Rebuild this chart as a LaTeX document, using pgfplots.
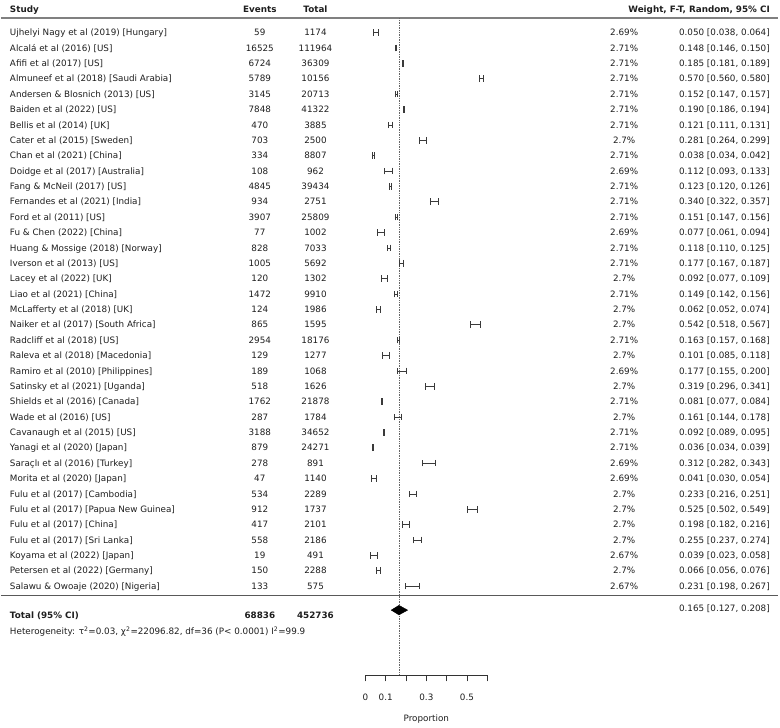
\documentclass[border=0pt]{standalone}
\usepackage{fontspec}
\setmainfont{DejaVu Sans}
\usepackage{pgfplots}
\usepackage{pgfplotstable}
\pgfplotsset{compat=1.18}

\pgfplotstableread{
idx est lo hi
0 0.050 0.038 0.064
1 0.148 0.146 0.150
2 0.185 0.181 0.189
3 0.570 0.560 0.580
4 0.152 0.147 0.157
5 0.190 0.186 0.194
6 0.121 0.111 0.131
7 0.281 0.264 0.299
8 0.038 0.034 0.042
9 0.112 0.093 0.133
10 0.123 0.120 0.126
11 0.340 0.322 0.357
12 0.151 0.147 0.156
13 0.077 0.061 0.094
14 0.118 0.110 0.125
15 0.177 0.167 0.187
16 0.092 0.077 0.109
17 0.149 0.142 0.156
18 0.062 0.052 0.074
19 0.542 0.518 0.567
20 0.163 0.157 0.168
21 0.101 0.085 0.118
22 0.177 0.155 0.200
23 0.319 0.296 0.341
24 0.081 0.077 0.084
25 0.161 0.144 0.178
26 0.092 0.089 0.095
27 0.036 0.034 0.039
28 0.312 0.282 0.343
29 0.041 0.030 0.054
30 0.233 0.216 0.251
31 0.525 0.502 0.549
32 0.198 0.182 0.216
33 0.255 0.237 0.274
34 0.039 0.023 0.058
35 0.066 0.056 0.076
36 0.231 0.198 0.267
}\forestdata

\definecolor{txt}{HTML}{1E1E1E}
\definecolor{ci}{HTML}{3A3A3A}

\tikzset{t/.style={inner sep=0pt, text=txt, yshift=-3.2pt},
         tb/.style={inner sep=0pt, text=txt, yshift=-3.2pt, font=\fontsize{8.8pt}{10pt}\selectfont\bfseries}}

\newcommand\frow[6]{%
  \node[t, anchor=base west] at (axis cs:-1.7511,-#1) {#2};
  \node[t, anchor=base] at (axis cs:-0.520,-#1) {#3};
  \node[t, anchor=base] at (axis cs:-0.246,-#1) {#4};
  \node[t, anchor=base] at (axis cs:1.274,-#1) {#5};
  \node[t, anchor=base east] at (axis cs:1.992,-#1) {#6};
}

\begin{document}
\begin{tikzpicture}[font=\fontsize{8.8pt}{10pt}\selectfont]
\begin{axis}[
  scale only axis,
  width=121.98pt, height=676pt,
  xmin=0, xmax=0.6,
  ymin=-41.80, ymax=2.125,
  axis x line=bottom, axis y line=none,
  axis line style={-, draw=black!80, line width=0.7pt},
  clip=false,
  xtick={0,0.1,0.2,0.3,0.4,0.5,0.6},
  xticklabels={0,0.1,,0.3,,0.5,},
  xtick align=outside,
  major tick length=6pt,
  tick style={draw=black!80, line width=0.7pt},
  ticklabel style={font=\fontsize{8.8pt}{10pt}\selectfont, text=txt},
  /pgf/number format/assume math mode=true,
  xticklabel style={yshift=-9pt},
  xlabel={Proportion},
  xlabel style={at={(axis description cs:0.5,0)}, anchor=center, yshift=-44pt, text=txt},
]
% bounding box
\path (axis cs:-1.7954,2.125) rectangle (axis cs:2.0413,-45.18);
% header
\node[tb, anchor=base west] at (axis cs:-1.7511,1.54) {Study};
\node[tb, anchor=base] at (axis cs:-0.520,1.54) {Events};
\node[tb, anchor=base] at (axis cs:-0.246,1.54) {Total};
\node[tb, anchor=base east] at (axis cs:1.992,1.54) {Weight, F-T, Random, 95\% CI};
\addplot[draw=gray, line width=1.6pt, forget plot] coordinates {(-1.7954,0.936) (2.0315,0.936)};
\addplot[draw=black!65, line width=0.8pt, forget plot] coordinates {(-1.7954,-36.58) (2.0315,-36.58)};
% reference line
\addplot[draw=black!60, densely dotted, line width=0.7pt, forget plot] coordinates {(0.165,0.936) (0.165,-41.80)};
% rows
\frow{0}{Ujhelyi Nagy et al (2019) [Hungary]}{59}{1174}{2.69\%}{0.050 [0.038, 0.064]}
\frow{1}{Alcalá et al (2016) [US]}{16525}{111964}{2.71\%}{0.148 [0.146, 0.150]}
\frow{2}{Afifi et al (2017) [US]}{6724}{36309}{2.71\%}{0.185 [0.181, 0.189]}
\frow{3}{Almuneef et al (2018) [Saudi Arabia]}{5789}{10156}{2.71\%}{0.570 [0.560, 0.580]}
\frow{4}{Andersen \& Blosnich (2013) [US]}{3145}{20713}{2.71\%}{0.152 [0.147, 0.157]}
\frow{5}{Baiden et al (2022) [US]}{7848}{41322}{2.71\%}{0.190 [0.186, 0.194]}
\frow{6}{Bellis et al (2014) [UK]}{470}{3885}{2.71\%}{0.121 [0.111, 0.131]}
\frow{7}{Cater et al (2015) [Sweden]}{703}{2500}{2.7\%}{0.281 [0.264, 0.299]}
\frow{8}{Chan et al (2021) [China]}{334}{8807}{2.71\%}{0.038 [0.034, 0.042]}
\frow{9}{Doidge et al (2017) [Australia]}{108}{962}{2.69\%}{0.112 [0.093, 0.133]}
\frow{10}{Fang \& McNeil (2017) [US]}{4845}{39434}{2.71\%}{0.123 [0.120, 0.126]}
\frow{11}{Fernandes et al (2021) [India]}{934}{2751}{2.71\%}{0.340 [0.322, 0.357]}
\frow{12}{Ford et al (2011) [US]}{3907}{25809}{2.71\%}{0.151 [0.147, 0.156]}
\frow{13}{Fu \& Chen (2022) [China]}{77}{1002}{2.69\%}{0.077 [0.061, 0.094]}
\frow{14}{Huang \& Mossige (2018) [Norway]}{828}{7033}{2.71\%}{0.118 [0.110, 0.125]}
\frow{15}{Iverson et al (2013) [US]}{1005}{5692}{2.71\%}{0.177 [0.167, 0.187]}
\frow{16}{Lacey et al (2022) [UK]}{120}{1302}{2.7\%}{0.092 [0.077, 0.109]}
\frow{17}{Liao et al (2021) [China]}{1472}{9910}{2.71\%}{0.149 [0.142, 0.156]}
\frow{18}{McLafferty et al (2018) [UK]}{124}{1986}{2.7\%}{0.062 [0.052, 0.074]}
\frow{19}{Naiker et al (2017) [South Africa]}{865}{1595}{2.7\%}{0.542 [0.518, 0.567]}
\frow{20}{Radcliff et al (2018) [US]}{2954}{18176}{2.71\%}{0.163 [0.157, 0.168]}
\frow{21}{Raleva et al (2018) [Macedonia]}{129}{1277}{2.7\%}{0.101 [0.085, 0.118]}
\frow{22}{Ramiro et al (2010) [Philippines]}{189}{1068}{2.69\%}{0.177 [0.155, 0.200]}
\frow{23}{Satinsky et al (2021) [Uganda]}{518}{1626}{2.7\%}{0.319 [0.296, 0.341]}
\frow{24}{Shields et al (2016) [Canada]}{1762}{21878}{2.71\%}{0.081 [0.077, 0.084]}
\frow{25}{Wade et al (2016) [US]}{287}{1784}{2.7\%}{0.161 [0.144, 0.178]}
\frow{26}{Cavanaugh et al (2015) [US]}{3188}{34652}{2.71\%}{0.092 [0.089, 0.095]}
\frow{27}{Yanagi et al (2020) [Japan]}{879}{24271}{2.71\%}{0.036 [0.034, 0.039]}
\frow{28}{Saraçlı et al (2016) [Turkey]}{278}{891}{2.69\%}{0.312 [0.282, 0.343]}
\frow{29}{Morita et al (2020) [Japan]}{47}{1140}{2.69\%}{0.041 [0.030, 0.054]}
\frow{30}{Fulu et al (2017) [Cambodia]}{534}{2289}{2.7\%}{0.233 [0.216, 0.251]}
\frow{31}{Fulu et al (2017) [Papua New Guinea]}{912}{1737}{2.7\%}{0.525 [0.502, 0.549]}
\frow{32}{Fulu et al (2017) [China]}{417}{2101}{2.7\%}{0.198 [0.182, 0.216]}
\frow{33}{Fulu et al (2017) [Sri Lanka]}{558}{2186}{2.7\%}{0.255 [0.237, 0.274]}
\frow{34}{Koyama et al (2022) [Japan]}{19}{491}{2.67\%}{0.039 [0.023, 0.058]}
\frow{35}{Petersen et al (2022) [Germany]}{150}{2288}{2.7\%}{0.066 [0.056, 0.076]}
\frow{36}{Salawu \& Owoaje (2020) [Nigeria]}{133}{575}{2.67\%}{0.231 [0.198, 0.267]}
% CIs
\addplot[draw=none, mark=none, forget plot,
  error bars/.cd, x dir=both, x explicit,
  error mark=|,
  error bar style={draw=ci, line width=0.75pt},
  error mark options={draw=ci, mark size=3.3pt, line width=0.75pt}]
  table[x=est, y expr=-\thisrow{idx},
        x error plus expr=\thisrow{hi}-\thisrow{est},
        x error minus expr=\thisrow{est}-\thisrow{lo}] \forestdata;
% total
\node[tb, anchor=base west] at (axis cs:-1.7511,-37.87) {Total (95\% CI)};
\node[tb, anchor=base] at (axis cs:-0.520,-37.87) {68836};
\node[tb, anchor=base] at (axis cs:-0.246,-37.87) {452736};
\node[t, anchor=base east] at (axis cs:1.992,-37.45) {0.165 [0.127, 0.208]};
\addplot[fill=black, draw=black, forget plot] coordinates {(0.127,-37.56) (0.165,-37.25) (0.208,-37.56) (0.165,-37.87)} -- cycle;
\node[t, anchor=base west] at (axis cs:-1.7511,-38.96) {Heterogeneity: τ\textsuperscript{2}=0.03, χ\textsuperscript{2}=22096.82, df=36 (P< 0.0001) I\textsuperscript{2}=99.9};
\end{axis}
\end{tikzpicture}
\end{document}
